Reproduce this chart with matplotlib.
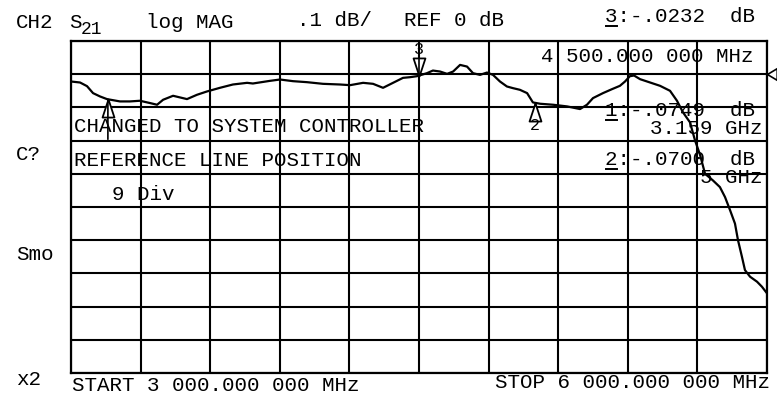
import matplotlib
matplotlib.use("Agg")
import matplotlib.pyplot as plt
import numpy as np

# S21 trace: frequency (GHz) and magnitude (dB)
freq = [3.000, 3.039, 3.069, 3.095, 3.125, 3.155, 3.211, 3.254, 3.297, 3.341,
        3.371, 3.397, 3.440, 3.500, 3.543, 3.586, 3.642, 3.698, 3.759, 3.784,
        3.858, 3.901, 3.957, 4.017, 4.086, 4.159, 4.203, 4.259, 4.302, 4.345,
        4.388, 4.431, 4.461, 4.491, 4.534, 4.560, 4.591, 4.621, 4.647, 4.677,
        4.707, 4.733, 4.763, 4.793, 4.819, 4.849, 4.879, 4.905, 4.935, 4.966,
        4.991, 5.022, 5.078, 5.138, 5.194, 5.224, 5.250, 5.293, 5.332, 5.366,
        5.388, 5.409, 5.427, 5.453, 5.496, 5.539, 5.582, 5.612, 5.638, 5.668,
        5.690, 5.711, 5.733, 5.767, 5.797, 5.819, 5.841, 5.862, 5.875, 5.892,
        5.905, 5.927, 5.957, 5.978, 6.000]
s21 = [-0.022, -0.025, -0.036, -0.057, -0.067, -0.075, -0.082, -0.082, -0.080, -0.087,
       -0.092, -0.077, -0.065, -0.075, -0.062, -0.052, -0.041, -0.031, -0.026, -0.028,
       -0.020, -0.016, -0.021, -0.024, -0.029, -0.031, -0.033, -0.026, -0.029, -0.041,
       -0.026, -0.011, -0.009, -0.006, 0.003, 0.011, 0.008, 0.001, 0.008, 0.028,
       0.023, 0.003, -0.002, 0.005, -0.002, -0.022, -0.037, -0.042, -0.047, -0.057,
       -0.085, -0.089, -0.092, -0.097, -0.105, -0.092, -0.072, -0.057, -0.045, -0.035,
       -0.022, -0.006, -0.004, -0.015, -0.025, -0.035, -0.050, -0.080, -0.115, -0.145,
       -0.200, -0.242, -0.300, -0.320, -0.340, -0.370, -0.410, -0.450, -0.500, -0.550,
       -0.590, -0.610, -0.625, -0.640, -0.660]

# markers
marker_num = ["1", "2", "3"]
marker_freq = [3.159, 5.0, 4.5]

ref_level = 0.0
scale = 0.1       # dB per division
ref_pos = 9       # divisions from bottom

W, H = 777, 402
FONT = "Liberation Mono"
FS = 15

fig = plt.figure(figsize=(W / 100, H / 100), dpi=100)
fig.patch.set_facecolor("white")

# grid area in pixels
gx0, gx1, gy0, gy1 = 71, 767, 42, 374
ax = fig.add_axes([gx0 / W, 1 - gy1 / H, (gx1 - gx0) / W, (gy1 - gy0) / H])

ybot = ref_level - ref_pos * scale
ytop = ybot + 10 * scale
ax.set_xlim(3.0, 6.0)
ax.set_ylim(ybot, ytop)
ax.set_xticks(np.linspace(3.0, 6.0, 11))
ax.set_yticks(np.linspace(ybot, ytop, 11))
ax.tick_params(length=0, labelbottom=False, labelleft=False)
ax.grid(True, color="black", linewidth=1.5)
for sp in ax.spines.values():
    sp.set_linewidth(1.6)

ax.plot(freq, s21, color="black", linewidth=1.6)

# marker symbols
tri_up = [(0, 0), (-0.33, -1), (0.33, -1), (0, 0)]
tri_dn = [(0, 0), (-0.33, 1), (0.33, 1), (0, 0)]
for num, f in zip(marker_num, marker_freq):
    v = np.interp(f, freq, s21)
    if num == "3":
        ax.plot(f, v, marker=tri_dn, markersize=26, markerfacecolor="white",
                markeredgecolor="black", markeredgewidth=1.3, clip_on=False)
        ax.annotate(num, (f, v), xytext=(0, 27), textcoords="offset pixels",
                    ha="center", va="center", fontsize=12, family=FONT)
        ax.annotate("", (f, v), xytext=(0, 22), textcoords="offset pixels",
                    arrowprops=dict(arrowstyle="-", lw=1.2, shrinkA=0, shrinkB=0))
    elif num == "2":
        ax.plot(f, v, marker=tri_up, markersize=26, markerfacecolor="white",
                markeredgecolor="black", markeredgewidth=1.3, clip_on=False)
        ax.annotate(num, (f, v), xytext=(0, -22), textcoords="offset pixels",
                    ha="center", va="center", fontsize=12, family=FONT)
    else:
        # marker 1: its number is plotted as a plain stroke below the triangle
        ax.plot(f, v, marker=tri_up, markersize=26, markerfacecolor="white",
                markeredgecolor="black", markeredgewidth=1.3, clip_on=False)
        ax.annotate("", (f, v), xytext=(0, -40), textcoords="offset pixels",
                    arrowprops=dict(arrowstyle="-", lw=1.2, shrinkA=0, shrinkB=0))

# reference position indicator on the right edge
ax.plot(6.0, ref_level, marker=[(0, 0), (1, 0.6), (1, -0.6), (0, 0)], markersize=14,
        markerfacecolor="white", markeredgecolor="black", markeredgewidth=1.2,
        clip_on=False)


def txt(x, y, s, ha="left", size=FS):
    fig.text(x / W, 1 - y / H, s, ha=ha, va="center", fontsize=size, family=FONT)


# header
txt(16, 22, "CH2")
txt(69, 22, "S")
txt(81, 29, "21", size=13)
txt(146, 22, "log MAG")
txt(297, 21, ".1 dB/")
txt(404, 20, "REF 0 dB")
txt(605, 17, "3:-.0232  dB")
txt(541, 56, "4 500.000 000 MHz")

# marker readouts
txt(605, 111, "1:-.0749  dB")
txt(762, 129, "3.159 GHz", ha="right")
txt(605, 160, "2:-.0700  dB")
txt(762, 178, "5 GHz", ha="right")
for ux, uy in [(606, 27), (606, 121), (606, 170)]:
    fig.add_artist(plt.Line2D([ux / W, (ux + 11) / W], [1 - uy / H, 1 - uy / H],
                              color="black", linewidth=1.4))

# messages
txt(74, 126, "CHANGED TO SYSTEM CONTROLLER")
txt(74, 161, "REFERENCE LINE POSITION")
txt(112, 195, "9 Div")

# softkey fragments on the left
txt(16, 155, "C?")
txt(16, 254, "Smo")
txt(16, 380, "x2")

# footer
txt(72, 386, "START 3 000.000 000 MHz")
txt(770, 383, "STOP 6 000.000 000 MHz", ha="right")

fig.savefig("out.png", dpi=100, facecolor="white")
